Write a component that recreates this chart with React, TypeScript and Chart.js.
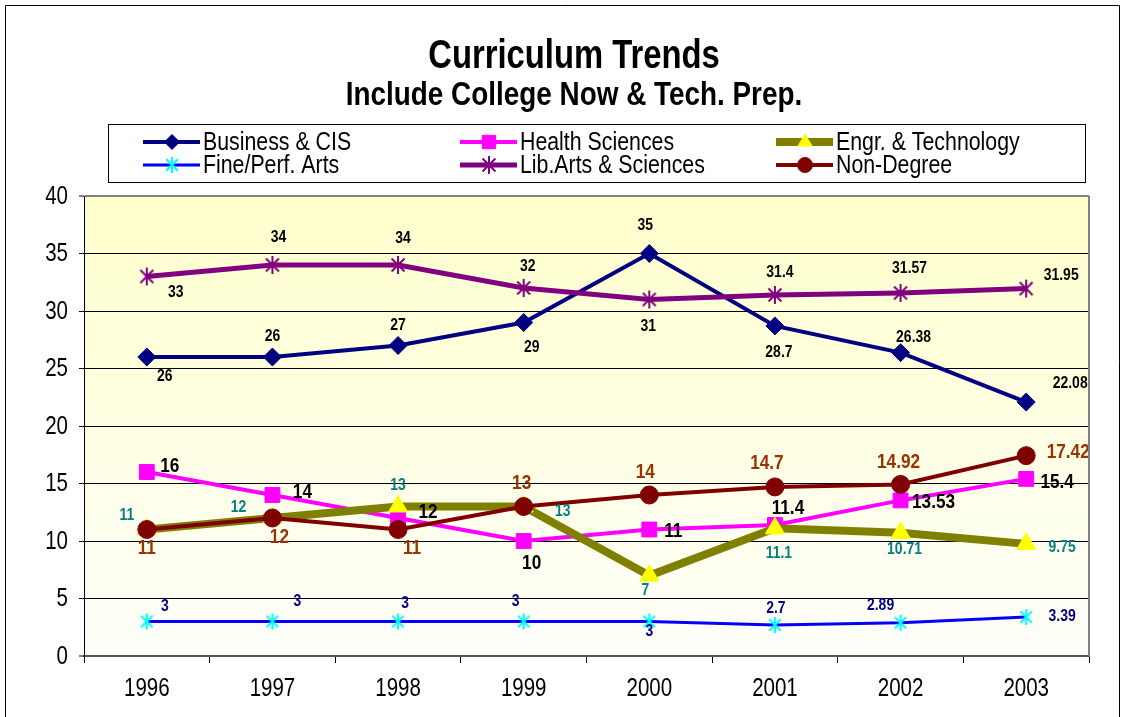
import React, { useEffect, useRef } from 'react';
import { Chart, registerables } from 'chart.js';
import { drawPoint } from 'chart.js/helpers';

Chart.register(...registerables);

// ---------- data ----------
const years = ['1996', '1997', '1998', '1999', '2000', '2001', '2002', '2003'];
const businessCIS = [26, 26, 27, 29, 35, 28.7, 26.38, 22.08];
const healthSciences = [16, 14, 12, 10, 11, 11.4, 13.53, 15.4];
const engrTechnology = [11, 12, 13, 13, 7, 11.1, 10.71, 9.75];
const finePerfArts = [3, 3, 3, 3, 3, 2.7, 2.89, 3.39];
const libArtsSciences = [33, 34, 34, 32, 31, 31.4, 31.57, 31.95];
const nonDegree = [11, 12, 11, 13, 14, 14.7, 14.92, 17.42];
const seriesNames = [
  'Business & CIS',
  'Health Sciences',
  'Engr. & Technology',
  'Fine/Perf. Arts',
  'Lib.Arts & Sciences',
  'Non-Degree',
];
const titleText = 'Curriculum Trends';
const subtitleText = 'Include College Now & Tech. Prep.';

// label placement offsets (dx, dy) relative to each point
const businessLabelOff = [[18, 19], [0, -21], [0, -20], [8, 25], [-4, -28], [4, 26], [13, -15], [44, -19]];
const healthLabelOff = [[23, -6], [30, -3], [30, -6], [8, 22], [24, 2], [13, -17], [33, 2], [31, 3]];
const engrLabelOff = [[-20, -14], [-34, -11], [0, -21], [39, 5], [-4, 15], [4, 25], [4, 16], [36, 3]];
const fineLabelOff = [[18, -15], [25, -20], [7, -18], [-8, -20], [0, 10], [1, -17], [-20, -17], [36, -1]];
const libLabelOff = [[29, 16], [6, -28], [5, -27], [4, -22], [-1, 27], [5, -23], [9, -25], [35, -13]];
const nonDegLabelOff = [[0, 19], [7, 19], [14, 19], [-2, -23], [-4, -23], [-8, -24], [-2, -22], [42, -3]];

const FONT = '"Liberation Sans", Arial, sans-serif';
const SQUEEZE = 0.82;

function drawNarrow(ctx: CanvasRenderingContext2D, text: string, x: number, y: number, font: string, align: CanvasTextAlign, color: string) {
  ctx.save();
  ctx.translate(x, y);
  ctx.scale(SQUEEZE, 1);
  ctx.font = font;
  ctx.textAlign = align;
  ctx.textBaseline = 'middle';
  ctx.fillStyle = color;
  ctx.fillText(text, 0, 0);
  ctx.restore();
}

function makeAsterisk(color: string, r: number, lw: number) {
  const s = Math.ceil(2 * r + lw + 2);
  const c = document.createElement('canvas');
  c.width = s;
  c.height = s;
  const g = c.getContext('2d')!;
  g.strokeStyle = color;
  g.lineWidth = lw;
  g.lineCap = 'butt';
  const m = s / 2;
  const d = r * 0.72;
  g.beginPath();
  g.moveTo(m, m - r);
  g.lineTo(m, m + r);
  g.moveTo(m - d, m - d);
  g.lineTo(m + d, m + d);
  g.moveTo(m + d, m - d);
  g.lineTo(m - d, m + d);
  g.stroke();
  return c;
}

const backgroundPlugin = {
  id: 'bgPlugin',
  beforeDraw(chart: any) {
    const { ctx, chartArea: a, width, height } = chart;
    ctx.save();
    ctx.fillStyle = '#ffffff';
    ctx.fillRect(0, 0, width, height);
    const grd = ctx.createLinearGradient(0, a.top, 0, a.bottom);
    grd.addColorStop(0, '#ffffcc');
    grd.addColorStop(1, '#fffffb');
    ctx.fillStyle = grd;
    ctx.fillRect(a.left, a.top, a.right - a.left, a.bottom - a.top);
    ctx.restore();
  },
  afterDraw(chart: any) {
    const { ctx, chartArea: a, width, height, scales } = chart;
    ctx.save();
    // plot right border
    ctx.strokeStyle = '#808080';
    ctx.lineWidth = 2;
    ctx.beginPath();
    ctx.moveTo(a.right, a.top);
    ctx.lineTo(a.right, a.bottom);
    ctx.stroke();
    // outer frame
    ctx.strokeStyle = '#000';
    ctx.lineWidth = 1;
    ctx.beginPath();
    ctx.moveTo(5.5, height + 5);
    ctx.lineTo(5.5, 5.5);
    ctx.lineTo(width - 3.5, 5.5);
    ctx.lineTo(width - 3.5, height + 5);
    ctx.stroke();
    // tick labels (library scales, squeezed font)
    const xs = scales.x;
    xs.ticks.forEach((t: any, i: number) => {
      drawNarrow(ctx, String(chart.data.labels[t.value]), xs.getPixelForTick(i), 689, `25px ${FONT}`, 'center', '#000');
    });
    const ys = scales.y;
    ys.ticks.forEach((t: any) => {
      drawNarrow(ctx, String(t.value), 68, ys.getPixelForValue(t.value) + 1, `25px ${FONT}`, 'right', '#000');
    });
    // titles
    drawNarrow(ctx, titleText, 574, 57, `bold 40px ${FONT}`, 'center', '#000');
    drawNarrow(ctx, subtitleText, 574, 96, `bold 34px ${FONT}`, 'center', '#000');
    // legend box
    ctx.fillStyle = '#fff';
    ctx.fillRect(108, 124, 977, 58);
    ctx.strokeStyle = '#000';
    ctx.lineWidth = 1;
    ctx.strokeRect(108.5, 124.5, 977, 58);
    const colX = [143, 460, 776];
    const rowY = [142, 165];
    chart.data.datasets.forEach((ds: any, i: number) => {
      const x0 = colX[i % 3];
      const y = rowY[Math.floor(i / 3)];
      ctx.strokeStyle = ds.borderColor;
      ctx.lineWidth = ds.borderWidth;
      ctx.beginPath();
      ctx.moveTo(x0, y);
      ctx.lineTo(x0 + 57, y);
      ctx.stroke();
      ctx.fillStyle = ds.pointBackgroundColor;
      ctx.strokeStyle = ds.pointBorderColor;
      ctx.lineWidth = 1;
      drawPoint(ctx, {
        pointStyle: ds.pointStyle,
        rotation: 0,
        radius: ds.legendRadius,
        borderWidth: 1,
      } as any, x0 + 29, y);
      drawNarrow(ctx, ds.label, x0 + 60, y + 1, `26px ${FONT}`, 'left', '#000');
    });
    ctx.restore();
  },
  afterDatasetsDraw(chart: any) {
    const { ctx } = chart;
    chart.data.datasets.forEach((ds: any, i: number) => {
      const meta = chart.getDatasetMeta(i);
      meta.data.forEach((pt: any, j: number) => {
        const off = ds.labelOffsets[j];
        drawNarrow(ctx, String(ds.data[j]), pt.x + off[0], pt.y + off[1], `bold ${ds.labelSize}px ${FONT}`, 'center', ds.labelColor);
      });
    });
  },
};

export default function App() {
  const ref = useRef<HTMLCanvasElement>(null);
  useEffect(() => {
    if (!ref.current) return;
    const fineStar = makeAsterisk('#00ffff', 8, 2);
    const libStar = makeAsterisk('#800080', 9, 2);
    const chart = new Chart(ref.current, {
      type: 'line',
      data: {
        labels: years,
        datasets: [
          {
            label: seriesNames[0], data: businessCIS, order: 5,
            borderColor: '#000080', borderWidth: 4,
            pointStyle: 'rectRot', pointRadius: 9, legendRadius: 7.5,
            pointBackgroundColor: '#000080', pointBorderColor: '#000080', pointBorderWidth: 1,
            labelColor: '#000', labelSize: 17, labelOffsets: businessLabelOff,
          } as any,
          {
            label: seriesNames[1], data: healthSciences, order: 4,
            borderColor: '#ff00ff', borderWidth: 4,
            pointStyle: 'rect', pointRadius: 10.5, legendRadius: 9.5,
            pointBackgroundColor: '#ff00ff', pointBorderColor: '#ff00ff', pointBorderWidth: 1,
            labelColor: '#000', labelSize: 21, labelOffsets: healthLabelOff,
          } as any,
          {
            label: seriesNames[2], data: engrTechnology, order: 3,
            borderColor: '#808000', borderWidth: 8,
            pointStyle: 'triangle', pointRadius: 11, legendRadius: 8,
            pointBackgroundColor: '#ffff00', pointBorderColor: '#ffff00', pointBorderWidth: 1,
            labelColor: '#008080', labelSize: 17, labelOffsets: engrLabelOff,
          } as any,
          {
            label: seriesNames[3], data: finePerfArts, order: 2,
            borderColor: '#0000ff', borderWidth: 3,
            pointStyle: fineStar, pointRadius: 8, legendRadius: 7,
            pointBackgroundColor: '#00ffff', pointBorderColor: '#00ffff', pointBorderWidth: 1,
            labelColor: '#000080', labelSize: 17, labelOffsets: fineLabelOff,
          } as any,
          {
            label: seriesNames[4], data: libArtsSciences, order: 1,
            borderColor: '#800080', borderWidth: 5,
            pointStyle: libStar, pointRadius: 9, legendRadius: 7,
            pointBackgroundColor: '#800080', pointBorderColor: '#800080', pointBorderWidth: 1,
            labelColor: '#000', labelSize: 17, labelOffsets: libLabelOff,
          } as any,
          {
            label: seriesNames[5], data: nonDegree, order: 0,
            borderColor: '#800000', borderWidth: 4,
            pointStyle: 'circle', pointRadius: 9, legendRadius: 7.5,
            pointBackgroundColor: '#800000', pointBorderColor: '#800000', pointBorderWidth: 1,
            labelColor: '#993300', labelSize: 21, labelOffsets: nonDegLabelOff,
          } as any,
        ],
      },
      options: {
        animation: false,
        responsive: false,
        events: [],
        layout: { padding: { left: 0, top: 196, right: 34, bottom: 0 } },
        plugins: {
          legend: { display: false },
          title: { display: false },
          tooltip: { enabled: false },
        },
        elements: { line: { tension: 0 } },
        scales: {
          x: {
            offset: true,
            afterFit: (s: any) => { s.height = 61; },
            grid: { offset: true, drawOnChartArea: false, drawTicks: true, tickLength: 7, color: '#000' },
            border: { display: true, color: '#555', width: 2 },
            ticks: { display: false, maxRotation: 0 },
          },
          y: {
            min: 0, max: 40,
            afterFit: (s: any) => { s.width = 84; },
            grid: {
              color: (c: any) => (c.tick && c.tick.value === 40 ? '#808080' : c.tick && c.tick.value === 0 ? '#555' : '#000'),
              lineWidth: (c: any) => (c.tick && (c.tick.value === 40 || c.tick.value === 0) ? 2 : 1),
              drawTicks: true, tickLength: 5, tickColor: '#000', tickWidth: 1,
            },
            border: { display: true, color: '#000', width: 1 },
            ticks: { display: false, stepSize: 5 },
          },
        },
      },
      plugins: [backgroundPlugin],
    });
    return () => chart.destroy();
  }, []);
  return (
    <div style={{ position: 'fixed', left: 0, top: 0, width: 1123, height: 717, background: '#fff' }}>
      <canvas ref={ref} width={1123} height={717} style={{ display: 'block', width: 1123, height: 717 }} />
    </div>
  );
}
